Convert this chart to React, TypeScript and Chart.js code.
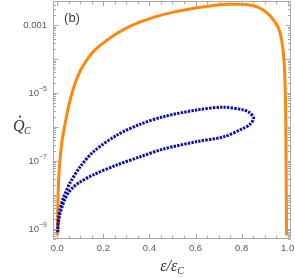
import React, { useEffect, useRef } from 'react';
import { Chart, registerables } from 'chart.js';

Chart.register(...registerables);

// ---- data ----
const orangeEps = [0.0, 0.002, 0.005, 0.01, 0.02, 0.03, 0.042, 0.056, 0.078, 0.1, 0.121, 0.15, 0.179, 0.215, 0.251, 0.3, 0.352, 0.425, 0.504, 0.6, 0.67, 0.735, 0.78, 0.837, 0.894, 0.938, 0.967, 0.981, 0.988, 0.992, 0.995];
const orangeQ = [6.3e-10, 4.5e-9, 2.0e-8, 7.9e-8, 3.55e-7, 8.9e-7, 2.4e-6, 6.3e-6, 2.0e-5, 4.5e-5, 7.9e-5, 1.48e-4, 2.3e-4, 3.55e-4, 5.25e-4, 8.1e-4, 1.17e-3, 1.74e-3, 2.4e-3, 3.16e-3, 3.7e-3, 4.07e-3, 4.1e-3, 3.9e-3, 2.75e-3, 1.41e-3, 5.75e-4, 1.48e-4, 2.4e-5, 1.0e-6, 6.3e-10];

// closed loop: upper branch out to the tip, lower branch back
const blueEps = [0.002, 0.005, 0.012, 0.027, 0.056, 0.1, 0.157, 0.259, 0.36, 0.461, 0.606, 0.721, 0.808, 0.835, 0.852, 0.835, 0.808, 0.721, 0.606, 0.461, 0.36, 0.259, 0.157, 0.1, 0.07, 0.05, 0.035, 0.022, 0.012, 0.005, 0.002];
const blueQ = [7.9e-10, 2.0e-9, 3.8e-9, 8.3e-9, 2.3e-8, 6.8e-8, 1.86e-7, 5.75e-7, 1.2e-6, 2.0e-6, 3.16e-6, 3.8e-6, 3.16e-6, 2.63e-6, 1.78e-6, 1.17e-6, 9.1e-7, 5.1e-7, 3.7e-7, 2.24e-7, 1.32e-7, 7.6e-8, 3.9e-8, 2.4e-8, 1.7e-8, 1.2e-8, 7.9e-9, 4.7e-9, 2.8e-9, 1.58e-9, 7.9e-10];

const xTickValues = [0, 0.2, 0.4, 0.6, 0.8, 1.0];
const xTickLabels = ['0.0', '0.2', '0.4', '0.6', '0.8', '1.0'];
const yTickValues = [1e-9, 1e-7, 1e-5, 1e-3];
const yTickBases = ['10', '10', '10', '0.001'];
const yTickExps = ['\u22129', '\u22127', '\u22125', ''];

const X_MIN = -0.0186;
const X_MAX = 1.0143;
const Y_MIN = 5.0e-10;
const Y_MAX = 5.1e-3;

const FRAME = '#a8a8a8';
const LABEL = '#5a5a5a';
const LABEL_FONT = '"Liberation Sans", Arial, sans-serif';
const TITLE_FONT = '"Liberation Serif", "Times New Roman", serif';

const axesPlugin = {
  id: 'mmaAxes',
  afterDraw(chart: any) {
    const { ctx, chartArea: ca, scales } = chart;
    const xs = scales.x;
    const ys = scales.y;
    ctx.save();
    ctx.strokeStyle = FRAME;
    ctx.lineWidth = 1;
    const L = Math.round(ca.left) + 0.5;
    const R = Math.round(ca.right) - 0.5;
    const T = Math.round(ca.top) + 0.5;
    const B = Math.round(ca.bottom) - 0.5;
    ctx.strokeRect(L, T, R - L, B - T);

    ctx.beginPath();
    for (let i = 0; i <= 20; i++) {
      const v = i * 0.05;
      const px = Math.round(xs.getPixelForValue(v)) + 0.5;
      const len = i % 4 === 0 ? 5 : 3;
      ctx.moveTo(px, B);
      ctx.lineTo(px, B - len);
      ctx.moveTo(px, T);
      ctx.lineTo(px, T + len);
    }
    for (let e = -10; e <= -2; e++) {
      for (let m = 1; m <= 9; m++) {
        const v = m * Math.pow(10, e);
        if (v < Y_MIN || v > Y_MAX) continue;
        const py = Math.round(ys.getPixelForValue(v)) + 0.5;
        const len = m === 1 ? 5 : 2.5;
        ctx.moveTo(L, py);
        ctx.lineTo(L + len, py);
        ctx.moveTo(R, py);
        ctx.lineTo(R - len, py);
      }
    }
    ctx.stroke();

    ctx.fillStyle = LABEL;
    ctx.font = `9.5px ${LABEL_FONT}`;
    ctx.textAlign = 'center';
    ctx.textBaseline = 'alphabetic';
    xTickValues.forEach((v, i) => {
      ctx.fillText(xTickLabels[i], xs.getPixelForValue(v), 251);
    });

    const rightX = 47;
    yTickValues.forEach((v, i) => {
      const py = ys.getPixelForValue(v);
      const exp = yTickExps[i];
      let supW = 0;
      if (exp) {
        ctx.font = `7px ${LABEL_FONT}`;
        supW = ctx.measureText(exp).width;
        ctx.textAlign = 'right';
        ctx.textBaseline = 'middle';
        ctx.fillText(exp, rightX, py - 4);
      }
      ctx.font = `9.5px ${LABEL_FONT}`;
      ctx.textAlign = 'right';
      ctx.textBaseline = 'middle';
      ctx.fillText(yTickBases[i], rightX - supW, py + 0.5);
    });

    ctx.fillStyle = '#3a3a3a';
    ctx.font = `13px ${LABEL_FONT}`;
    ctx.textAlign = 'center';
    ctx.textBaseline = 'middle';
    ctx.fillText('(b)', 72, 18);

    ctx.fillStyle = '#333333';
    ctx.textAlign = 'left';
    ctx.textBaseline = 'alphabetic';
    ctx.font = `italic 16px ${TITLE_FONT}`;
    const qx = 13;
    const qy = 131;
    ctx.fillText('Q', qx, qy);
    const qW = ctx.measureText('Q').width;
    ctx.beginPath();
    ctx.arc(qx + qW * 0.6, qy - 14.5, 1.1, 0, Math.PI * 2);
    ctx.fill();
    ctx.font = `italic 10px ${TITLE_FONT}`;
    ctx.fillText('C', qx + qW - 0.5, qy + 3);

    ctx.font = `italic 16px ${TITLE_FONT}`;
    const main = '\u03b5/\u03b5';
    const mW = ctx.measureText(main).width;
    ctx.font = `italic 10px ${TITLE_FONT}`;
    const cW = ctx.measureText('C').width;
    const startX = 172 - (mW + cW) / 2;
    ctx.font = `italic 16px ${TITLE_FONT}`;
    ctx.fillText(main, startX, 271);
    ctx.font = `italic 10px ${TITLE_FONT}`;
    ctx.fillText('C', startX + mW, 274);

    ctx.restore();
  },
};

export default function App() {
  const canvasRef = useRef<HTMLCanvasElement | null>(null);

  useEffect(() => {
    const canvas = canvasRef.current;
    if (!canvas) return;
    const chart = new Chart(canvas, {
      type: 'scatter',
      data: {
        datasets: [
          {
            label: 'loop',
            data: blueEps.map((x, i) => ({ x, y: blueQ[i] })),
            showLine: true,
            borderColor: 'rgb(12,12,170)',
            borderWidth: 3,
            borderDash: [2.4, 1.2],
            borderCapStyle: 'butt',
            pointRadius: 0,
            tension: 0.3,
            fill: false,
          },
          {
            label: 'envelope',
            data: orangeEps.map((x, i) => ({ x, y: orangeQ[i] })),
            showLine: true,
            borderColor: 'rgb(255,135,10)',
            borderWidth: 3,
            pointRadius: 0,
            cubicInterpolationMode: 'monotone',
            fill: false,
          },
        ],
      },
      options: {
        responsive: false,
        animation: false,
        devicePixelRatio: 1,
        layout: { padding: { left: 53, right: 4, top: 1, bottom: 39 } },
        plugins: { legend: { display: false }, tooltip: { enabled: false } },
        scales: {
          x: { type: 'linear', min: X_MIN, max: X_MAX, display: false },
          y: { type: 'logarithmic', min: Y_MIN, max: Y_MAX, display: false },
        },
      } as any,
      plugins: [axesPlugin],
    });
    return () => chart.destroy();
  }, []);

  return (
    <div style={{ position: 'fixed', left: 0, top: 0, width: 295, height: 278, background: '#fff' }}>
      <canvas ref={canvasRef} width={295} height={278} style={{ display: 'block', width: 295, height: 278 }} />
    </div>
  );
}
